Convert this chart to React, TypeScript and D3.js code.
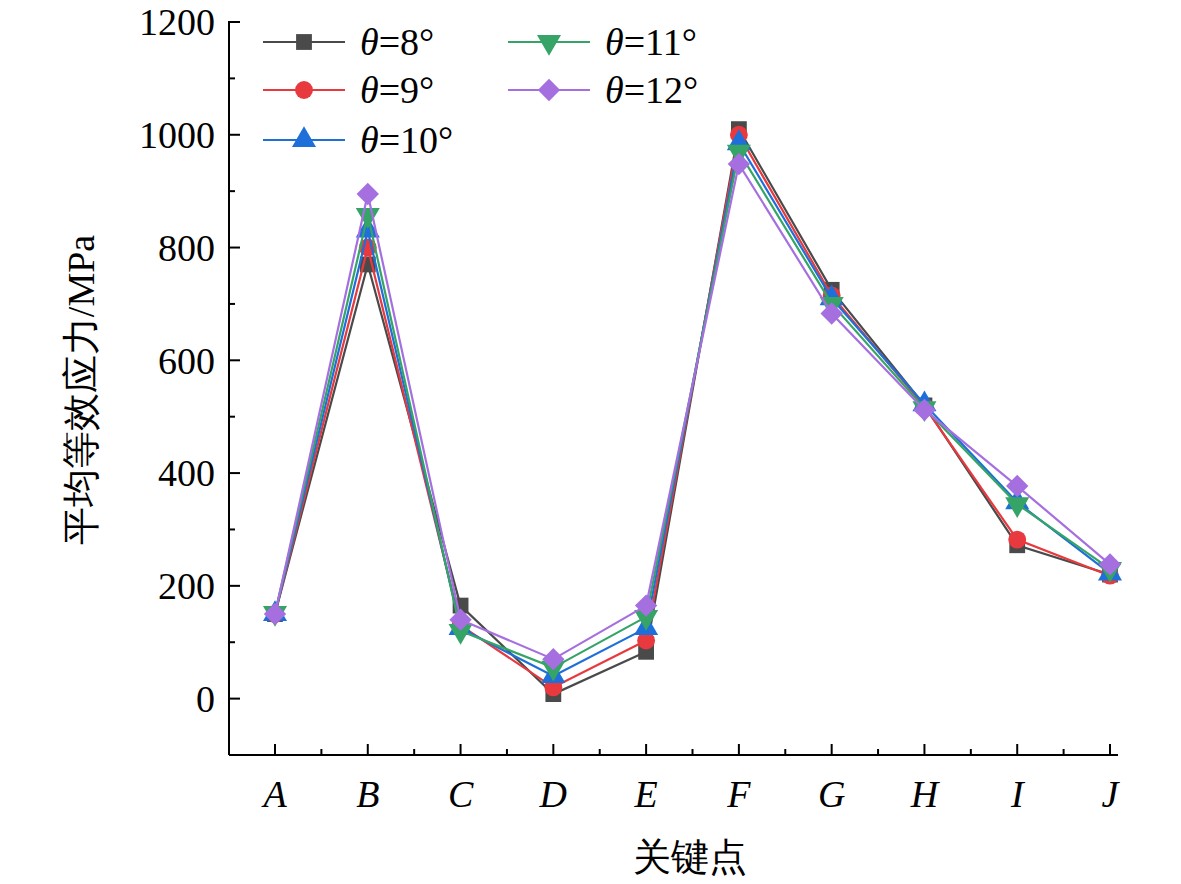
import { useMemo } from "react";
import { scaleLinear, scalePoint, line as d3Line, symbol, symbolSquare, symbolCircle, symbolTriangle } from "d3";

const categories = ["A", "B", "C", "D", "E", "F", "G", "H", "I", "J"];
const seriesNames = ["8°", "9°", "10°", "11°", "12°"];
const theta8 = [150, 770, 165, 8, 83, 1010, 725, 520, 272, 220];
const theta9 = [150, 800, 130, 20, 103, 1000, 715, 518, 282, 218];
const theta10 = [150, 830, 125, 40, 125, 985, 710, 522, 348, 222];
const theta11 = [152, 858, 120, 55, 145, 970, 700, 515, 345, 230];
const theta12 = [150, 895, 140, 70, 165, 948, 683, 512, 377, 238];
const yTicks = [0, 200, 400, 600, 800, 1000, 1200];

const COLORS = ["#4a4a4a", "#e8393e", "#1e6fd9", "#36a466", "#a66fe0"];
const FONT = "Liberation Serif, Times New Roman, DejaVu Serif, serif";

// symbol type per series; 11° is a flipped triangle, 12° a square turned 45°
const markerPath = (i: number, size: number) => {
  const types = [symbolSquare, symbolCircle, symbolTriangle, symbolTriangle, symbolSquare];
  return symbol(types[i], size)() ?? "";
};
const markerRot = [0, 0, 0, 180, 45];

export default function App() {
  const series = [theta8, theta9, theta10, theta11, theta12];
  const left = 229, right = 1118, top = 22, bottom = 755;

  const x = useMemo(() => scalePoint<string>().domain(categories).range([275, 1110]), []);
  const y = useMemo(() => scaleLinear().domain([-100, 1200]).range([bottom, top]), []);

  const lineGen = d3Line<number>().x((_, i) => x(categories[i])!).y((d) => y(d));

  const minorY = [];
  for (let v = -100; v <= 1100; v += 200) minorY.push(v);
  const step = x.step();

  const marker = (i: number, cx: number, cy: number, size = 250) => (
    <path
      d={markerPath(i, size)}
      transform={`translate(${cx},${cy}) rotate(${markerRot[i]})`}
      fill={COLORS[i]}
    />
  );

  const legendPos = [
    [263, 42], [263, 90], [263, 140], [508, 42], [508, 90],
  ];

  return (
    <svg width={1181} height={884} style={{ display: "block", margin: -8, background: "#fff" }} fontFamily={FONT}>
      {/* axes */}
      <line x1={left} y1={top - 1} x2={left} y2={bottom} stroke="#000" strokeWidth={2} />
      <line x1={left} y1={bottom} x2={right} y2={bottom} stroke="#000" strokeWidth={2} />
      {yTicks.map((t) => (
        <g key={t}>
          <line x1={left} x2={left + 11} y1={y(t)} y2={y(t)} stroke="#000" strokeWidth={2} />
          <text x={left - 14} y={y(t)} dy="0.35em" textAnchor="end" fontSize={38}>{t}</text>
        </g>
      ))}
      {minorY.map((t) => (
        <line key={t} x1={left} x2={left + 6} y1={y(t)} y2={y(t)} stroke="#000" strokeWidth={2} />
      ))}
      {categories.map((c, i) => (
        <g key={c}>
          <line x1={x(c)!} x2={x(c)!} y1={bottom} y2={bottom - 11} stroke="#000" strokeWidth={2} />
          {i < categories.length - 1 && (
            <line x1={x(c)! + step / 2} x2={x(c)! + step / 2} y1={bottom} y2={bottom - 6} stroke="#000" strokeWidth={2} />
          )}
          <text x={x(c)!} y={807} textAnchor="middle" fontStyle="italic" fontSize={38}>{c}</text>
        </g>
      ))}
      <text x={690} y={870} textAnchor="middle" fontSize={38}>关键点</text>
      <text transform={`translate(94,390) rotate(-90)`} textAnchor="middle" fontSize={38}>平均等效应力/MPa</text>

      {/* series */}
      {series.map((s, i) => (
        <g key={i}>
          <path d={lineGen(s) ?? ""} fill="none" stroke={COLORS[i]} strokeWidth={2.2} />
          {s.map((v, j) => <g key={j}>{marker(i, x(categories[j])!, y(v))}</g>)}
        </g>
      ))}

      {/* legend */}
      {seriesNames.map((n, i) => {
        const [lx, ly] = legendPos[i];
        return (
          <g key={n}>
            <line x1={lx} x2={lx + 82} y1={ly} y2={ly} stroke={COLORS[i]} strokeWidth={2.2} />
            {marker(i, lx + 41, ly)}
            <text x={lx + 97} y={ly} dy="0.35em" fontSize={38}>
              <tspan fontStyle="italic">θ</tspan>={n}
            </text>
          </g>
        );
      })}
    </svg>
  );
}
